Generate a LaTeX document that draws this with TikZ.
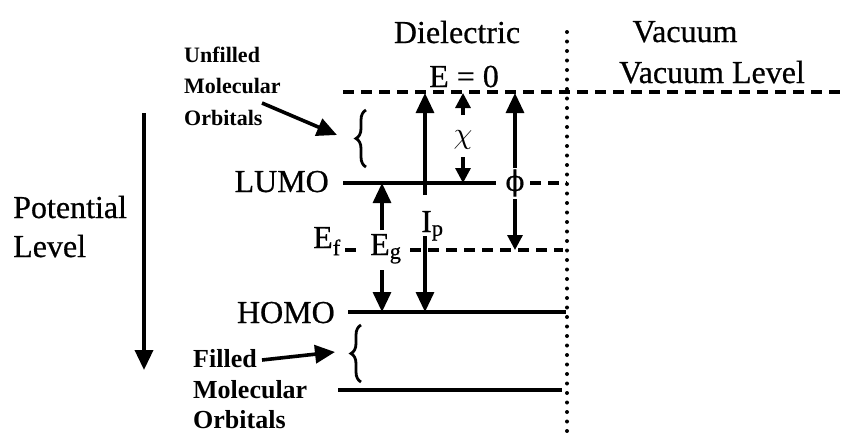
\documentclass[tikz,border=0pt]{standalone}
\usepackage{fontspec}
\usepackage{graphicx}
\setmainfont{Liberation Serif}
\newfontfamily\heavyserif{Liberation Serif}[FakeBold=0.6]
\newfontfamily\grkfont{DejaVu Serif}[FakeBold=0.4]
\usetikzlibrary{arrows.meta,decorations.pathreplacing}
\begin{document}
\begin{tikzpicture}[x=1pt,y=-1pt,
  lbl/.style={font=\heavyserif\fontsize{32}{38}\selectfont, inner sep=0pt, anchor=base},
  sml/.style={font=\fontsize{22}{28}\selectfont\bfseries, inner sep=0pt, anchor=base west},
  smlb/.style={font=\fontsize{26}{30}\selectfont\bfseries, inner sep=0pt, anchor=base west},
  lvl/.style={line width=3.6pt},
  dsh/.style={line width=3.6pt, dash pattern=on 11pt off 7pt},
  dotl/.style={line width=4pt, line cap=round, dash pattern=on 0pt off 9.5pt},
  arr/.style={line width=3.2pt, -{Triangle[length=20pt,width=18pt]}},
  sarr/.style={line width=3.2pt, -{Triangle[length=15pt,width=15pt]}},
  brc/.style={decorate, decoration={brace, amplitude=10pt}, line width=2.8pt},
]
\useasboundingbox (0,0) rectangle (847,432);
% levels
\coordinate (vacL) at (343,92);  \coordinate (vacR) at (847,92);
\coordinate (dotT) at (567,32);  \coordinate (dotB) at (567,432);
\coordinate (lumoL) at (343,183); \coordinate (lumoM) at (496,183);
\coordinate (lumoD) at (530,183); \coordinate (lumoR) at (567,183);
\coordinate (efA) at (345,250); \coordinate (efB) at (362,250);
\coordinate (efC) at (410,250); \coordinate (efD) at (563,250);
\coordinate (homoL) at (348,312); \coordinate (homoR) at (566,312);
\coordinate (botL) at (338,390); \coordinate (botR) at (562,390);
\draw[dsh] (vacL) -- (vacR);
\draw[dotl] (dotT) -- (dotB);
\draw[lvl] (lumoL) -- (lumoM);
\draw[dsh] (lumoD) -- (lumoR);
\draw[dsh] (efA) -- (efB);
\draw[dsh] (efC) -- (efD);
\draw[lvl] (homoL) -- (homoR);
\draw[lvl] (botL) -- (botR);
% labels
\node[lbl] (diel) at (457,43) {Dielectric};
\node[lbl] (vac) at (685,42) {Vacuum};
\node[lbl] (vaclev) at (712,83) {Vacuum Level};
\node[lbl] (e0) at (464,87) {E = 0};
\node[lbl,anchor=base east] (lumo) at (329,192) {LUMO};
\node[lbl,anchor=base east] (homo) at (335,323) {HOMO};
\node[lbl,anchor=base west] (pot) at (13,218) {Potential};
\node[lbl,anchor=base west] (lev) at (13,257) {Level};
\node[lbl,anchor=base west] (ef) at (313,248) {E\textsubscript{f}};
\node[lbl,anchor=base west] (eg) at (370,255) {E\textsubscript{g}};
\node[lbl,anchor=base west] (ip) at (421,232) {I\textsubscript{p}};
\node[inner sep=0pt,anchor=center] (chi) at (463,140) {\scalebox{3.0}{$\chi$}};
\node[inner sep=0pt,anchor=center,font=\grkfont\fontsize{28}{30}\selectfont] (phi) at (515,183) {ϕ};
\node[sml] (u1) at (184,62) {Unfilled};
\node[sml] (u2) at (184,93) {Molecular};
\node[sml] (u3) at (184,125) {Orbitals};
\node[smlb] (f1) at (193,367) {Filled};
\node[smlb] (f2) at (193,398) {Molecular};
\node[smlb] (f3) at (193,428) {Orbitals};
% arrows
\coordinate (ipT) at (425,93);  \coordinate (ipA) at (425,195);
\coordinate (ipB) at (425,236); \coordinate (ipH) at (425,312);
\draw[arr] (ipA) -- (ipT);
\draw[arr] (ipB) -- (ipH);
\coordinate (chT) at (463,93);  \coordinate (chA) at (463,115);
\coordinate (chB) at (463,157); \coordinate (chL) at (463,183);
\draw[sarr] (chA) -- (chT);
\draw[sarr] (chB) -- (chL);
\coordinate (phT) at (515,93);  \coordinate (phA) at (515,168);
\coordinate (phB) at (515,199); \coordinate (phE) at (515,250);
\draw[arr] (phA) -- (phT);
\draw[sarr] (phB) -- (phE);
\coordinate (egT) at (382,183); \coordinate (egA) at (382,230);
\coordinate (egB) at (382,270); \coordinate (egH) at (382,312);
\draw[arr] (egA) -- (egT);
\draw[arr] (egB) -- (egH);
\coordinate (potT) at (144,113); \coordinate (potB) at (144,370);
\draw[arr, line width=3.6pt] (potT) -- (potB);
\coordinate (uS) at (262,103); \coordinate (uE) at (337,135);
\draw[arr, line width=3.6pt] (uS) -- (uE);
\coordinate (fS) at (262,360); \coordinate (fE) at (335,352);
\draw[arr, line width=3.6pt] (fS) -- (fE);
% braces
\coordinate (b1a) at (366,167); \coordinate (b1b) at (366,110);
\coordinate (b2a) at (361,382); \coordinate (b2b) at (361,325);
\draw[brc] (b1a) -- (b1b);
\draw[brc] (b2a) -- (b2b);
\end{tikzpicture}
\end{document}
